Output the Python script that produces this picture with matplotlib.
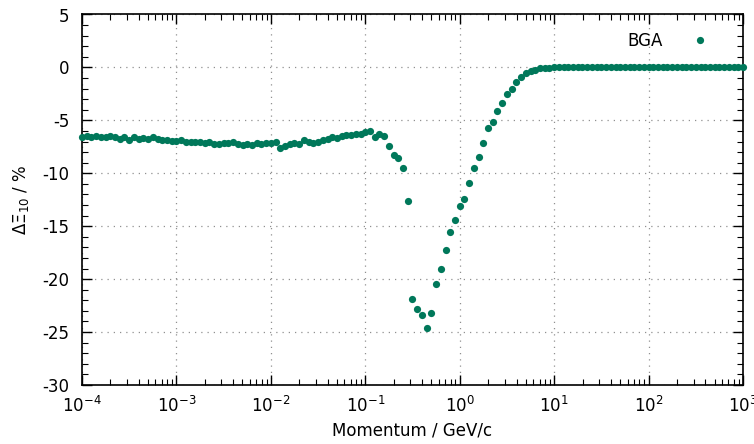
import numpy as np
import matplotlib
matplotlib.use("Agg")
import matplotlib.pyplot as plt
from matplotlib.ticker import MultipleLocator, LogLocator, NullFormatter

plt.rcParams['font.family'] = ['DejaVu Sans']
plt.rcParams['axes.unicode_minus'] = False

# log10 of momentum: 20 points per decade from 1e-4 to 1e3
log_p_start = -4.0
log_p_step = 0.05

# Delta Xi_10 in %
delta_flat = [
    -6.55, -6.50, -6.60, -6.50, -6.55, -6.60, -6.50, -6.60, -6.75, -6.60,
    -6.85, -6.60, -6.75, -6.70, -6.80, -6.60, -6.80, -6.85, -6.90, -6.95,
    -6.95, -6.90, -7.00, -7.00, -7.05, -7.05, -7.10, -7.05, -7.20, -7.20,
    -7.15, -7.10, -7.00, -7.20, -7.30, -7.20, -7.30, -7.15, -7.20, -7.10,
    -7.15, -7.05, -7.60, -7.40, -7.20, -7.10, -7.20, -6.90, -7.00, -7.10,
    -7.00, -6.90, -6.80, -6.60, -6.70, -6.50, -6.40, -6.35, -6.30, -6.30,
    -6.10,
]
delta_dip = [
    -6.05, -6.57, -6.30, -6.45, -7.42, -8.27, -8.56, -9.51, -12.62, -21.86,
    -22.81, -23.38, -24.62, -23.19, -20.45, -19.04, -17.24, -15.55, -14.41, -13.09,
    -12.43, -10.92, -9.50, -8.46, -7.14, -5.73, -5.16, -4.12, -3.36, -2.51,
    -2.04, -1.38, -0.91, -0.53, -0.34, -0.20, -0.10, -0.05, -0.02,
]
delta_tail = [0.0] * 41

delta = np.array(delta_flat + delta_dip + delta_tail)
momentum = 10 ** (log_p_start + log_p_step * np.arange(len(delta)))

series_label = "BGA"
x_label = "Momentum / GeV/c"
y_label = "ΔΞ$_{10}$ / %"
color = "#00785a"

fig = plt.figure(figsize=(7.54, 4.44), dpi=100)
ax = fig.add_axes([82/754, 59/444, (743-82)/754, (385-14.5)/444])

ax.plot(momentum, delta, 'o', color=color, markersize=5.2, markeredgewidth=0,
        label=series_label, clip_on=False, zorder=3)

ax.set_xscale('log')
ax.set_xlim(1e-4, 1e3)
ax.set_ylim(-30, 5)
ax.yaxis.set_major_locator(MultipleLocator(5))
ax.yaxis.set_minor_locator(MultipleLocator(1))
ax.xaxis.set_major_locator(LogLocator(base=10, numticks=20))
ax.xaxis.set_minor_locator(LogLocator(base=10, subs=np.arange(2, 10), numticks=20))
ax.xaxis.set_minor_formatter(NullFormatter())

ax.tick_params(which='both', direction='in', top=True, right=True, labelsize=12, colors='black')
ax.tick_params(which='major', length=7, width=1)
ax.tick_params(axis='x', which='major', pad=8)
ax.tick_params(axis='y', which='major', pad=9)
ax.tick_params(which='minor', length=4, width=0.8)
for s in ax.spines.values():
    s.set_linewidth(1.2)

ax.grid(True, which='major', linestyle=(0, (1, 4)), color='#909090', linewidth=0.9)
ax.set_axisbelow(True)

ax.set_xlabel(x_label, fontsize=12, labelpad=4)
ax.set_ylabel(y_label, fontsize=12, labelpad=8)

ax.legend(loc='upper right', markerfirst=False, frameon=False, fontsize=12,
          handletextpad=1.28, borderaxespad=0.0, bbox_to_anchor=(0.971, 0.970))

fig.savefig("out.png", dpi=100)
